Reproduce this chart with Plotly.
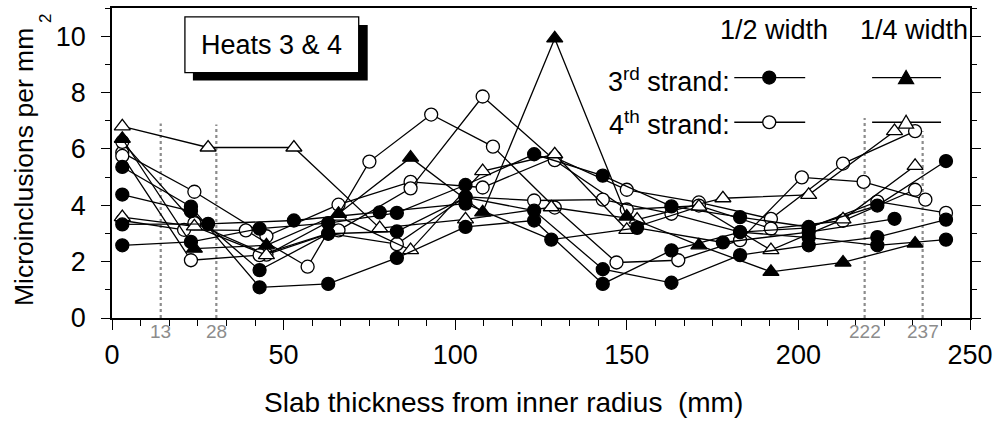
import plotly.graph_objects as go

# ---------------- data ----------------
x21 = [3, 24, 45, 66, 87, 108, 129, 150, 171, 192, 213, 234]
x20 = [3, 23, 43, 63, 83, 103, 123, 143, 163, 183, 203, 223, 243]
x25 = [3, 28, 53, 78, 103, 128, 153, 178, 203, 228]
x18 = [3, 21, 39, 57, 75, 93, 111, 129, 147, 165, 183, 201, 219, 237]

# 3rd strand, 1/2 width (filled circles)
fc1 = [5.36, 3.95, 1.09, 1.21, 2.13, 3.23, 3.46, 1.21, 2.40, 3.05, 2.85, 2.58, 2.78]
fc2 = [4.38, 3.79, 1.70, 2.99, 3.07, 4.28, 3.81, 1.73, 1.25, 2.23, 2.58, 2.87, 3.49]
fc3 = [2.58, 2.70, 3.17, 3.37, 3.73, 4.72, 5.81, 5.05, 3.96, 3.58, 3.23, 3.99, 5.57]
fc4 = [3.32, 3.34, 3.46, 3.75, 4.06, 2.78, 3.20, 2.68, 3.05, 3.52]

# 4th strand, 1/2 width (open circles)
oc1 = [5.87, 4.48, 2.90, 4.02, 4.83, 4.63, 5.70, 4.55, 4.10, 3.52, 5.48, 6.63]
oc2 = [6.25, 3.37, 2.25, 3.11, 4.60, 7.86, 5.60, 3.85, 3.99, 3.17, 3.45, 4.55]
oc3 = [3.46, 3.13, 3.11, 1.82, 5.55, 7.22, 6.08, 3.92, 1.97, 2.05, 2.76, 4.99, 4.83, 4.20]
oc4 = [5.75, 2.05, 2.23, 3.00, 2.62, 4.30, 4.17, 4.20, 3.70, 3.05, 3.20, 4.13, 3.73]

# 3rd strand, 1/4 width (filled triangles)
ft1 = [6.36, 2.46, 2.58, 3.70, 5.69, 3.75, 9.92, 3.60, 2.58, 1.64, 1.97, 2.64]

# 4th strand, 1/4 width (open triangles)
ot1 = [6.80, 6.05, 6.05, 3.19, 3.50, 3.93, 3.49, 4.25, 4.37, 6.63]
ot2 = [3.58, 3.25, 2.23, 3.60, 2.41, 5.21, 5.81, 3.13, 3.95, 2.41, 3.50, 5.40]

# dotted reference positions
ref_x = [14.2, 30.4, 219.3, 236.2]
ref_top = [6.9, 6.87, 7.1, 6.63]
ref_labels = ["13", "28", "222", "237"]

x_ticks = [0, 50, 100, 150, 200, 250]
y_ticks = [0, 2, 4, 6, 8, 10]

# ---------------- layout geometry ----------------
W, H = 999, 424
ML, MR, MT, MB = 112, 28, 6, 106
PW, PH = W - ML - MR, H - MT - MB
FONT = "Arial, Liberation Sans, sans-serif"
FS = 27


def px(xp):
    return (xp - ML) / PW


def py(yp):
    return (H - MB - yp) / PH


fig = go.Figure()

LW = 1.3
MS = 13


def add(xs, ys, symbol, filled):
    fig.add_trace(go.Scatter(
        x=xs, y=ys, mode="lines+markers", showlegend=False,
        line=dict(color="black", width=LW),
        marker=dict(symbol=symbol, size=MS if "circle" in symbol else MS + 1,
                    color="black" if filled else "white",
                    line=dict(color="black", width=1.3)),
        cliponaxis=False,
    ))


add(x21, oc1, "circle", False)
add(x21, oc2, "circle", False)
add(x18, oc3, "circle", False)
add(x20, oc4, "circle", False)
add(x25, ot1, "triangle-up", False)
add(x21, ot2, "triangle-up", False)
add(x20, fc1, "circle", True)
add(x20, fc2, "circle", True)
add(x20, fc3, "circle", True)
add(x25, fc4, "circle", True)
add(x21, ft1, "triangle-up", True)

shapes = []
annotations = []

# dotted reference lines + grey labels
for xr, yt, lab in zip(ref_x, ref_top, ref_labels):
    shapes.append(dict(type="line", xref="x", yref="y", x0=xr, x1=xr, y0=0, y1=yt,
                       line=dict(color="#8c8c8c", width=2.2, dash="dot"), layer="below"))
    annotations.append(dict(x=xr, xref="x", y=py(332), yref="paper", text=lab, showarrow=False,
                            font=dict(family=FONT, size=19, color="#8c8c8c"),
                            xanchor="center", yanchor="middle"))

# "Heats 3 & 4" box with shadow
shapes.append(dict(type="rect", xref="paper", yref="paper", x0=px(193), x1=px(368),
                   y0=py(79), y1=py(23), fillcolor="black", line=dict(width=0)))
shapes.append(dict(type="rect", xref="paper", yref="paper", x0=px(185), x1=px(359),
                   y0=py(71), y1=py(15), fillcolor="white", line=dict(color="black", width=1.3)))
annotations.append(dict(x=px(272), y=py(43), xref="paper", yref="paper", text="Heats 3 & 4",
                        showarrow=False, font=dict(family=FONT, size=FS, color="black"),
                        xanchor="center", yanchor="middle"))

# custom legend
annotations += [
    dict(x=px(775), y=py(28), xref="paper", yref="paper", text="1/2 width", showarrow=False,
         font=dict(family=FONT, size=FS, color="black"), xanchor="center", yanchor="middle"),
    dict(x=px(915), y=py(28), xref="paper", yref="paper", text="1/4 width", showarrow=False,
         font=dict(family=FONT, size=FS, color="black"), xanchor="center", yanchor="middle"),
    dict(x=px(733), y=py(78), xref="paper", yref="paper", text="3<sup>rd</sup> strand:",
         showarrow=False, font=dict(family=FONT, size=FS, color="black"),
         xanchor="right", yanchor="middle"),
    dict(x=px(733), y=py(122), xref="paper", yref="paper", text="4<sup>th</sup> strand:",
         showarrow=False, font=dict(family=FONT, size=FS, color="black"),
         xanchor="right", yanchor="middle"),
]


def leg_line(x0, x1, y):
    shapes.append(dict(type="line", xref="paper", yref="paper", x0=px(x0), x1=px(x1),
                       y0=py(y), y1=py(y), line=dict(color="black", width=LW)))


def leg_circle(cx, cy, filled, r=6.5):
    shapes.append(dict(type="circle", xref="paper", yref="paper", x0=px(cx - r), x1=px(cx + r),
                       y0=py(cy + r), y1=py(cy - r), fillcolor="black" if filled else "white",
                       line=dict(color="black", width=1.3)))


def leg_tri(cx, cy, filled, s=7.5):
    p = "M {},{} L {},{} L {},{} Z".format(px(cx - s), py(cy + s * 0.8), px(cx + s), py(cy + s * 0.8),
                                           px(cx), py(cy - s * 0.95))
    shapes.append(dict(type="path", xref="paper", yref="paper", path=p,
                       fillcolor="black" if filled else "white", line=dict(color="black", width=1.3)))


leg_line(735, 806, 76)
leg_circle(770, 76, True)
leg_line(873, 942, 76)
leg_tri(907, 76, True)
leg_line(735, 806, 121)
leg_circle(770, 121, False)
leg_line(873, 942, 121)
leg_tri(907, 121, False)

# axis titles
annotations.append(dict(x=px(504), y=py(403), xref="paper", yref="paper",
                        text="Slab thickness from inner radius  (mm)", showarrow=False,
                        font=dict(family=FONT, size=28, color="black"),
                        xanchor="center", yanchor="middle"))
annotations.append(dict(x=px(24), y=py(166), xref="paper", yref="paper",
                        text="Microinclusions per mm", showarrow=False, textangle=-90,
                        font=dict(family=FONT, size=26.5, color="black"),
                        xanchor="center", yanchor="middle"))
annotations.append(dict(x=px(46), y=py(17), xref="paper", yref="paper",
                        text="2", showarrow=False, textangle=-90,
                        font=dict(family=FONT, size=17, color="black"),
                        xanchor="center", yanchor="middle"))

fig.update_layout(
    width=W, height=H,
    margin=dict(l=ML, r=MR, t=MT, b=MB),
    paper_bgcolor="white", plot_bgcolor="white",
    shapes=shapes, annotations=annotations,
    xaxis=dict(range=[0, 250], tickvals=x_ticks, ticks="outside", ticklen=10, tickwidth=1.3,
               tickcolor="black", showline=True, linecolor="black", linewidth=1.5, mirror=True,
               showgrid=False, zeroline=False,
               tickfont=dict(family=FONT, size=FS, color="black"), ticklabelstandoff=2,
               minor=dict(dtick=50 / 6, ticks="outside", ticklen=6, tickwidth=1.3, tickcolor="black",
                          showgrid=False)),
    yaxis=dict(range=[0, 11], tickvals=y_ticks, ticks="outside", ticklen=9, tickwidth=1.3,
               tickcolor="black", showline=True, linecolor="black", linewidth=1.5, mirror="ticks",
               showgrid=False, zeroline=False,
               tickfont=dict(family=FONT, size=FS, color="black"), ticklabelstandoff=10,
               minor=dict(dtick=1, ticks="outside", ticklen=5, tickwidth=1.3, tickcolor="black",
                          showgrid=False)),
)

fig.write_html("out.html")
